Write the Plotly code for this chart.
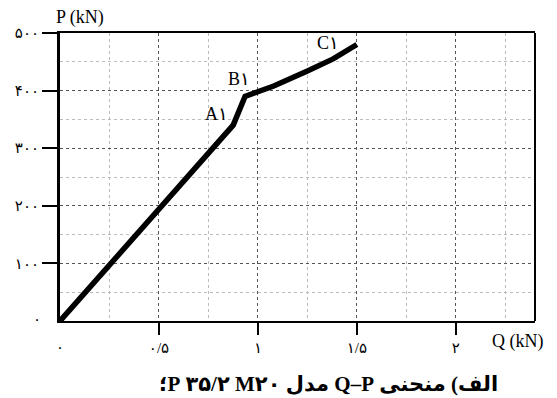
import plotly.graph_objects as go

# Load-slip curve: slip Q (kN axis label as printed) vs load P (kN)
q_values = [0.0, 0.875, 0.935, 1.08, 1.25, 1.38, 1.5]
p_values = [0.0, 340.0, 390.0, 408.0, 434.0, 455.0, 480.0]

# Point labels on the curve
point_names = ["A۱", "B۱", "C۱"]
point_q = [0.79, 0.905, 1.355]
point_p = [359.0, 420.0, 482.0]

# Axis ticks (Persian digits)
x_tickvals = [0.5, 1.0, 1.5, 2.0]
x_ticktext = ["۰/۵", "۱", "۱/۵", "۲"]
y_tickvals = [100, 200, 300, 400, 500]
y_ticktext = ["۱۰۰", "۲۰۰", "۳۰۰", "۴۰۰", "۵۰۰"]
zero_label = "۰"

caption = "\u202bالف) منحنی Q–P مدل M۲۰\u200f ۳۵/۲\u200f P؛\u202c"

serif = "Liberation Serif, Times New Roman, DejaVu Sans"

fig = go.Figure()
fig.add_trace(go.Scatter(
    x=q_values, y=p_values, mode="lines",
    line=dict(color="black", width=5.5),
    hoverinfo="skip", showlegend=False,
))

annotations = []
for name, q, p in zip(point_names, point_q, point_p):
    annotations.append(dict(x=q, y=p, xref="x", yref="y", text=name,
                            showarrow=False, font=dict(family=serif, size=18, color="black")))

# zero labels on both axes
annotations.append(dict(x=0, y=0, xref="x", yref="y", text=zero_label, showarrow=False,
                        xanchor="right", xshift=-17, yshift=2,
                        font=dict(family=serif, size=15, color="black")))
annotations.append(dict(x=0, y=0, xref="x", yref="y", text=zero_label, showarrow=False,
                        yshift=-26, font=dict(family=serif, size=15, color="black")))

# axis titles
annotations.append(dict(x=-0.012, y=1.0, xref="paper", yref="paper", text="P (kN)",
                        showarrow=False, xanchor="left", yanchor="bottom", yshift=3,
                        font=dict(family=serif, size=18, color="black")))
annotations.append(dict(x=1.0, y=0.0, xref="paper", yref="paper", text="Q (kN)",
                        showarrow=False, xanchor="center", yanchor="middle",
                        xshift=-17, yshift=-20,
                        font=dict(family=serif, size=18, color="black")))

# caption
annotations.append(dict(x=0.566, y=0.0, xref="paper", yref="paper", text="<b>" + caption + "</b>",
                        showarrow=False, xanchor="center", yanchor="middle", yshift=-63,
                        font=dict(family=serif, size=21, color="black")))

fig.update_layout(
    width=557, height=398,
    margin=dict(l=60, r=22, t=33, b=77),
    paper_bgcolor="white", plot_bgcolor="white",
    annotations=annotations,
    shapes=[dict(type="line", xref="paper", yref="paper", x0=1, x1=1, y0=0, y1=1,
                 line=dict(color="black", width=2))],
    xaxis=dict(
        range=[0, 2.4], tickmode="array", tickvals=x_tickvals, ticktext=x_ticktext,
        ticks="outside", ticklen=12, tickwidth=2, tickcolor="black",
        tickfont=dict(family=serif, size=15, color="black"),
        showline=True, linewidth=2, linecolor="black", mirror=True,
        showgrid=True, gridcolor="#555", griddash="dot", gridwidth=1,
        minor=dict(dtick=0.25, tick0=0, showgrid=True, gridcolor="#bbb",
                   griddash="dot", gridwidth=1, ticks=""),
        zeroline=False, fixedrange=True,
    ),
    yaxis=dict(
        range=[0, 500], tickmode="array", tickvals=y_tickvals, ticktext=y_ticktext,
        ticks="outside", ticklen=15, tickwidth=2, tickcolor="black",
        tickfont=dict(family=serif, size=15, color="black"),
        showline=True, linewidth=3, linecolor="black",
        showgrid=True, gridcolor="#555", griddash="dot", gridwidth=1,
        minor=dict(dtick=50, tick0=0, showgrid=True, gridcolor="#bbb",
                   griddash="dot", gridwidth=1, ticks=""),
        zeroline=False, fixedrange=True,
    ),
)

fig.write_html("out.html")
